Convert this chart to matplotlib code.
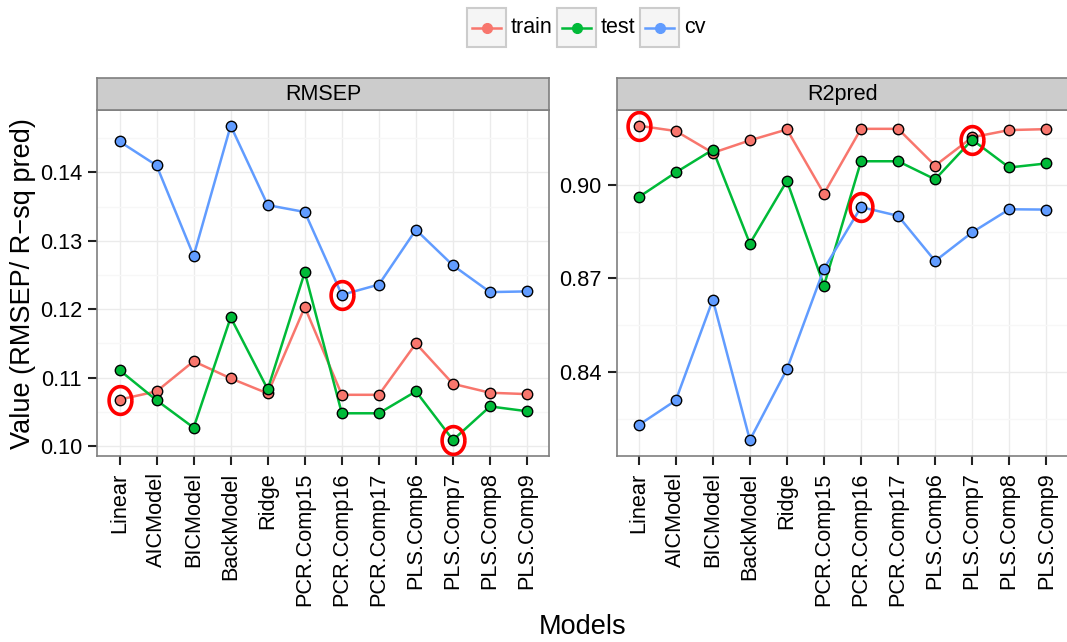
import numpy as np
import matplotlib
matplotlib.use('Agg')
import matplotlib.pyplot as plt
from matplotlib.path import Path
from matplotlib.lines import Line2D

plt.rcParams['font.family'] = ['Liberation Sans', 'DejaVu Sans']

models = ['Linear', 'AICModel', 'BICModel', 'BackModel', 'Ridge', 'PCR.Comp15',
          'PCR.Comp16', 'PCR.Comp17', 'PLS.Comp6', 'PLS.Comp7', 'PLS.Comp8', 'PLS.Comp9']

rmsep_train = [0.1068, 0.1080, 0.1124, 0.1099, 0.1077, 0.1203, 0.1075, 0.1075, 0.1150, 0.1091, 0.1078, 0.1076]
rmsep_test = [0.1111, 0.1067, 0.1027, 0.1188, 0.1083, 0.1254, 0.1048, 0.1048, 0.1080, 0.1009, 0.1058, 0.1051]
rmsep_cv = [0.1445, 0.1410, 0.1278, 0.1468, 0.1352, 0.1342, 0.1221, 0.1236, 0.1316, 0.1264, 0.1225, 0.1226]

r2_train = [0.9190, 0.9173, 0.9103, 0.9143, 0.9178, 0.8972, 0.9180, 0.9180, 0.9062, 0.9153, 0.9176, 0.9179]
r2_test = [0.8961, 0.9040, 0.9113, 0.8812, 0.9013, 0.8677, 0.9076, 0.9076, 0.9018, 0.9145, 0.9056, 0.9069]
r2_cv = [0.8230, 0.8309, 0.8632, 0.8182, 0.8409, 0.8731, 0.8929, 0.8901, 0.8756, 0.8848, 0.8922, 0.8921]

rmsep_ticks = [0.10, 0.11, 0.12, 0.13, 0.14]
r2_ticks = [0.84, 0.87, 0.90]

series = ['train', 'test', 'cv']
colors = {'train': '#F8766D', 'test': '#00BA38', 'cv': '#619CFF'}

# slightly tall ellipse used to ring the best value of each series
t = np.linspace(0, 2 * np.pi, 60)
ring = Path(np.column_stack([0.82 * np.cos(t), np.sin(t)]))

W, H = 1067, 642
fig = plt.figure(figsize=(W / 100, H / 100), dpi=100)

panels = [
    ('RMSEP', {'train': rmsep_train, 'test': rmsep_test, 'cv': rmsep_cv}, rmsep_ticks, np.argmin, 97.3),
    ('R2pred', {'train': r2_train, 'test': r2_test, 'cv': r2_cv}, r2_ticks, np.argmax, 616.5),
]

x = np.arange(len(models))
for name, data, ticks, best, left in panels:
    ax = fig.add_axes([left / W, (H - 455.7) / H, 452 / W, 345.7 / H])

    for s in series:
        ax.plot(x, data[s], color=colors[s], lw=1.8, zorder=3)
        ax.plot(x, data[s], 'o', ms=7.5, mfc=colors[s], mec='black', mew=1.0, zorder=4)
    for s in series:
        i = best(data[s])
        ax.plot(x[i], data[s][i], marker=ring, ms=20, mfc='none', mec='#FF0000', mew=2.6, zorder=5)

    ax.set_yticks(ticks)
    ax.set_yticklabels(['%.2f' % v for v in ticks])
    step = ticks[1] - ticks[0]
    minor = [ticks[0] - step / 2] + [v + step / 2 for v in ticks]
    ax.set_yticks(minor, minor=True)
    ax.set_xticks(x)
    ax.set_xticklabels(models, rotation=90)

    # free y scale: data range plus 5% either side
    allv = np.concatenate([data[s] for s in series])
    lo, hi = allv.min(), allv.max()
    pad = (hi - lo) * 0.05
    ax.set_ylim(lo - pad, hi + pad)
    ax.set_xlim(-0.6, len(models) - 0.4)

    ax.grid(True, which='major', color='#EBEBEB', lw=1.0)
    ax.grid(True, which='minor', axis='y', color='#F7F7F7', lw=1.0)
    ax.set_axisbelow(True)
    ax.tick_params(which='minor', length=0)
    ax.tick_params(which='major', direction='out', length=6.5, width=1.5, color='#222222',
                   labelsize=15.7)
    ax.tick_params(axis='x', pad=5.5)
    ax.tick_params(axis='y', pad=4.5)
    for sp in ax.spines.values():
        sp.set_color('#7F7F7F')
        sp.set_linewidth(1.2)

    # facet strip
    strip = fig.add_axes([left / W, (H - 110) / H, 452 / W, 32 / H])
    strip.set_facecolor('#CCCCCC')
    strip.set_xticks([])
    strip.set_yticks([])
    for sp in strip.spines.values():
        sp.set_color('#7F7F7F')
        sp.set_linewidth(1.2)
    strip.text(0.5, 0.48, name, ha='center', va='center', fontsize=15.5,
               transform=strip.transAxes)

fig.text(23 / W, 1 - 284 / H, 'Value (RMSEP/ R\u2212sq pred)', rotation=90,
         ha='center', va='center', fontsize=19.5)
fig.text(583 / W, 1 - 627 / H, 'Models', ha='center', va='center', fontsize=19.5)

# legend: grey-bordered key boxes with line + point, label to the right
key_left = [467, 557, 640]
ky = 1 - 27.5 / H
for s, kx in zip(series, key_left):
    box = plt.Rectangle((kx / W, 1 - 47 / H), 39 / W, 39 / H, transform=fig.transFigure,
                        facecolor='#F5F5F5', edgecolor='#CCCCCC', lw=1.5)
    fig.patches.append(box)
    fig.add_artist(Line2D([(kx + 5) / W, (kx + 34) / W], [ky, ky], color=colors[s], lw=1.8,
                          transform=fig.transFigure))
    fig.add_artist(Line2D([(kx + 19.5) / W], [ky], marker='o', ms=7, color=colors[s],
                          transform=fig.transFigure))
    fig.text((kx + 44) / W, ky, s, ha='left', va='center', fontsize=15.5)

fig.savefig('out.png', dpi=100)
